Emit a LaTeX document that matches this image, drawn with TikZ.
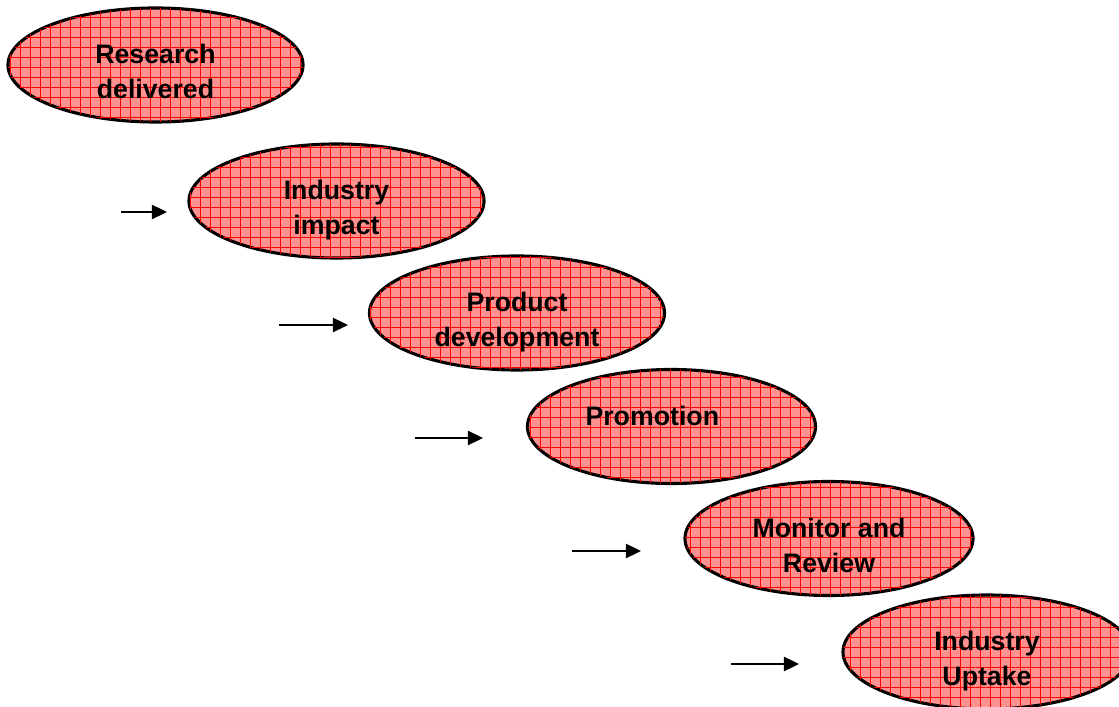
\documentclass[tikz,border=0pt]{standalone}
\usepackage{fontspec}
\setmainfont{Liberation Sans}
\usepackage{tikz}
\usetikzlibrary{arrows.meta,patterns.meta,shapes.geometric}
\definecolor{stagefill}{RGB}{255,145,145}
\begin{document}
\begin{tikzpicture}[x=0.025cm, y=-0.025cm,
  stage/.style={ellipse, draw=black, line width=2.2pt, fill=stagefill,
    minimum width=7.375cm, minimum height=2.85cm, inner sep=0pt,
    postaction={pattern={Hatch[angle=0, distance=0.25cm, line width=0.35pt]}, pattern color=red}},
  narrow/.style={minimum width=7.2cm},
  stagetext/.style={anchor=north, yshift=15pt, inner sep=0pt, align=center,
    font=\fontsize{19}{25}\selectfont\bfseries},
  flow/.style={-{Triangle[length=0.38cm, width=0.36cm]}, line width=1.1pt}]
\path[use as bounding box, clip] (0,0) rectangle (1119,707);
\node[stage] (research) at (155.5,65) {};
\node[stagetext] at (research.center) {Research\\delivered};
\node[stage] (impact) at (336.5,201) {};
\node[stagetext] at (impact.center) {Industry\\impact};
\node[stage] (product) at (517,313) {};
\node[stagetext] at (product.center) {Product\\development};
\node[stage, narrow] (promo) at (671.5,426.5) {};
\node[stagetext, xshift=-0.48cm] at (promo.center) {Promotion};
\node[stage, narrow] (monitor) at (829,538.5) {};
\node[stagetext] at (monitor.center) {Monitor and\\Review};
\node[stage, narrow] (uptake) at (987,652) {};
\node[stagetext] at (uptake.center) {Industry\\Uptake};
\coordinate (a1) at (121,212); \coordinate (b1) at (167,212);
\draw[flow] (a1) -- (b1);
\coordinate (a2) at (279,325); \coordinate (b2) at (348,325);
\draw[flow] (a2) -- (b2);
\coordinate (a3) at (415,438); \coordinate (b3) at (483,438);
\draw[flow] (a3) -- (b3);
\coordinate (a4) at (572,551); \coordinate (b4) at (641,551);
\draw[flow] (a4) -- (b4);
\coordinate (a5) at (731,664); \coordinate (b5) at (799,664);
\draw[flow] (a5) -- (b5);
\end{tikzpicture}
\end{document}
